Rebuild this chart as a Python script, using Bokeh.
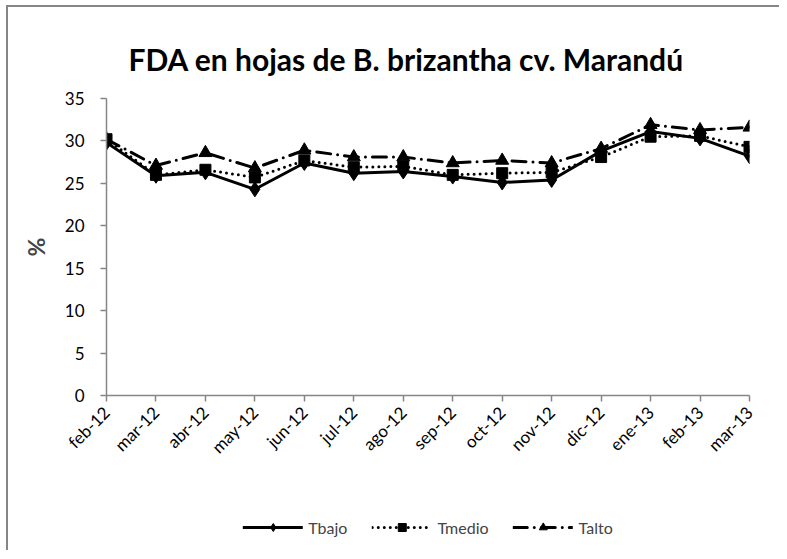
from math import pi
from bokeh.plotting import figure
from bokeh.layouts import column
from bokeh.models import Range1d, FixedTicker, Legend, LegendItem
from bokeh.embed import file_html
from bokeh.resources import INLINE

months = ["feb-12", "mar-12", "abr-12", "may-12", "jun-12", "jul-12", "ago-12",
          "sep-12", "oct-12", "nov-12", "dic-12", "ene-13", "feb-13", "mar-13"]
tbajo = [29.8, 25.9, 26.3, 24.3, 27.4, 26.2, 26.4, 25.8, 25.1, 25.4, 28.8, 31.1, 30.3, 28.2]
tmedio = [30.2, 26.0, 26.6, 25.7, 27.7, 26.9, 27.0, 26.0, 26.2, 26.3, 28.1, 30.5, 30.6, 29.3]
talto = [30.2, 27.1, 28.6, 26.8, 28.9, 28.1, 28.1, 27.4, 27.7, 27.4, 29.1, 31.9, 31.3, 31.6]
y_ticks = [0, 5, 10, 15, 20, 25, 30, 35]
title_text = "FDA en hojas de B. brizantha cv. Marandú"
y_label = "%"
series_names = ["Tbajo", "Tmedio", "Talto"]

xs = list(range(len(months)))
FONT = "Lato"
GREY = "#868686"

styles = [dict(marker="diamond", size=15, dash="solid"),
          dict(marker="square", size=11, dash="0 6"),
          dict(marker="triangle", size=13, dash="14 7 0 7")]

p = figure(width=771, height=482, output_backend="svg", toolbar_location=None,
           x_range=Range1d(0, len(months) - 1),
           y_range=Range1d(0, 35),
           min_border_left=98, min_border_right=30, min_border_top=91, min_border_bottom=94)
p.outline_line_color = None
p.grid.visible = False

p.title.text = title_text
p.title.align = "left"
p.title.offset = 22
p.title.text_font = FONT
p.title.text_font_size = "30px"
p.title.text_font_style = "bold"
p.title.text_color = "black"
p.title.standoff = 43

for ax in (p.xaxis[0], p.yaxis[0]):
    ax.axis_line_color = GREY
    ax.axis_line_width = 1.5
    ax.major_tick_line_color = GREY
    ax.major_tick_line_width = 1.5
    ax.major_tick_out = 6
    ax.major_tick_in = 0
    ax.minor_tick_line_color = None
    ax.major_label_text_font = FONT
    ax.major_label_text_font_size = "17px"
    ax.major_label_text_color = "black"

p.xaxis.ticker = FixedTicker(ticks=xs)
p.xaxis.major_label_overrides = {i: m for i, m in enumerate(months)}
p.xaxis.major_label_orientation = pi / 4
p.xaxis.major_label_standoff = 8

p.yaxis.ticker = FixedTicker(ticks=y_ticks)
p.yaxis.major_label_standoff = 16
p.yaxis.axis_label = y_label
p.yaxis.axis_label_text_font = FONT
p.yaxis.axis_label_text_font_size = "23px"
p.yaxis.axis_label_text_font_style = "bold"
p.yaxis.axis_label_standoff = 12

for ys, st in zip([tbajo, tmedio, talto], styles):
    p.line(xs, ys, line_color="black", line_width=3, line_dash=st["dash"],
           line_join="round", line_cap="round")
    p.scatter(xs, ys, marker=st["marker"], size=st["size"], color="black")

# legend strip below the chart (its renderers lie outside its tiny range, so only the legend shows)
lg = figure(width=771, height=61, output_backend="svg", toolbar_location=None,
            x_range=Range1d(0, 1), y_range=Range1d(0, 1),
            min_border_left=36, min_border_right=0, min_border_top=15, min_border_bottom=0)
lg.axis.visible = False
lg.grid.visible = False
lg.outline_line_color = None
items = []
for name, ys, st in zip(series_names, [tbajo, tmedio, talto], styles):
    lr = lg.line(xs, ys, line_color="black", line_width=3, line_dash=st["dash"],
                 line_join="round", line_cap="round")
    mr = lg.scatter(xs, ys, marker=st["marker"], size=st["size"], color="black")
    items.append(LegendItem(label=name, renderers=[lr, mr]))
legend = Legend(items=items, orientation="horizontal", location="center",
                glyph_width=60, glyph_height=20, label_standoff=6, spacing=24,
                label_text_font=FONT, label_text_font_size="16px",
                border_line_color=None, background_fill_alpha=0, padding=0, margin=0)
lg.add_layout(legend, "center")

layout = column(p, lg, spacing=0,
                styles={"border-left": "2px solid #868686", "border-top": "2px solid #868686",
                        "margin-left": "6px", "margin-top": "5px"})

open("out.html", "w").write(file_html(layout, INLINE))
